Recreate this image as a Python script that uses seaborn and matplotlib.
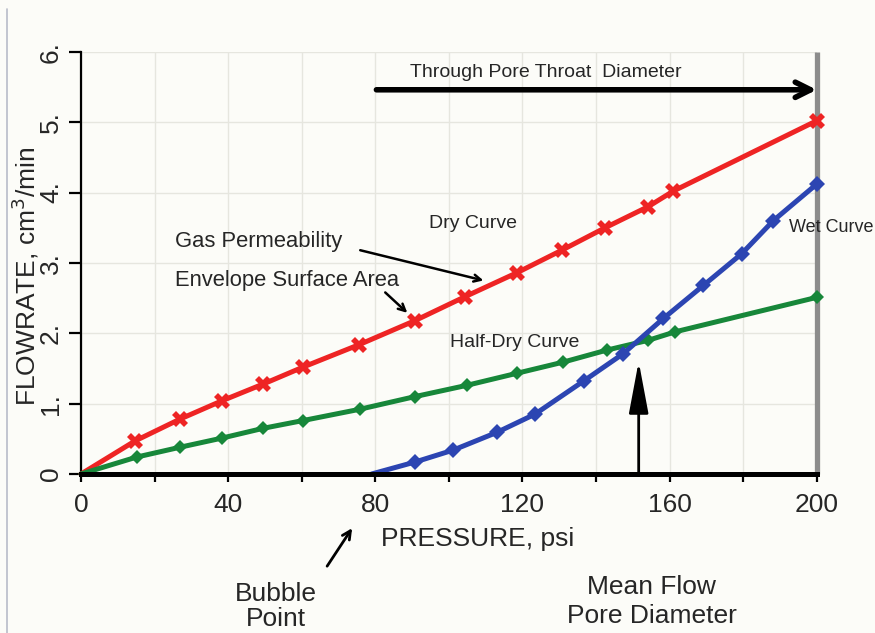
import matplotlib
matplotlib.use("Agg")
import matplotlib.pyplot as plt
from matplotlib.lines import Line2D
import seaborn as sns
import pandas as pd

# ---- data ----
dry_x = [0, 14.7, 26.9, 38.3, 49.6, 60.4, 75.7, 90.8, 104.4, 118.5, 130.7, 142.5, 154.2, 161.0, 200]
dry_y = [0, 0.47, 0.78, 1.04, 1.28, 1.52, 1.84, 2.18, 2.52, 2.86, 3.18, 3.50, 3.80, 4.02, 5.02]

half_x = [0, 15.1, 26.9, 38.3, 49.6, 60.4, 75.8, 90.8, 104.9, 118.4, 131.1, 142.9, 154.2, 161.5, 200]
half_y = [0, 0.24, 0.38, 0.51, 0.65, 0.76, 0.92, 1.10, 1.26, 1.43, 1.59, 1.76, 1.90, 2.02, 2.51]

wet_x = [79.0, 90.8, 101.2, 113.0, 123.4, 136.6, 147.4, 158.3, 169.2, 179.6, 188.2, 200]
wet_y = [0, 0.17, 0.34, 0.59, 0.85, 1.32, 1.71, 2.21, 2.68, 3.13, 3.60, 4.12]

x_ticks = [0, 20, 40, 60, 80, 100, 120, 140, 160, 180, 200]
x_tick_labels = ["0", "", "40", "", "80", "", "120", "", "160", "", "200"]
y_ticks = [0, 1, 2, 3, 4, 5, 6]
y_tick_labels = ["0", "1.", "2.", "3.", "4.", "5.", "6."]

sns.set_style("white")
plt.rcParams["font.family"] = ["Liberation Sans", "DejaVu Sans"]

BG = "#fcfcf8"
fig = plt.figure(figsize=(8.75, 6.33), dpi=100, facecolor=BG)
ax = fig.add_axes([0.0926, 0.2512, 0.8408, 0.6670])
ax.set_facecolor(BG)

red = "#ee2424"
green = "#17873a"
blue = "#2c45b2"

df_dry = pd.DataFrame({"p": dry_x, "f": dry_y})
df_half = pd.DataFrame({"p": half_x, "f": half_y})
df_wet = pd.DataFrame({"p": wet_x, "f": wet_y})

sns.lineplot(data=df_dry, x="p", y="f", ax=ax, color=red, lw=3.6, marker="X",
             markersize=12, markeredgewidth=0, markevery=list(range(1, len(dry_x))),
             clip_on=False, zorder=4)
sns.lineplot(data=df_half, x="p", y="f", ax=ax, color=green, lw=3.6, marker="D",
             markersize=7.5, markeredgewidth=0, markevery=list(range(1, len(half_x))),
             clip_on=False, zorder=4)
sns.lineplot(data=df_wet, x="p", y="f", ax=ax, color=blue, lw=3.6, marker="D",
             markersize=8, markeredgewidth=0, markevery=list(range(1, len(wet_x))),
             clip_on=False, zorder=4)

ax.set_xlim(0, 200)
ax.set_ylim(0, 6)
ax.set_xticks(x_ticks)
ax.set_xticklabels(x_tick_labels, fontsize=19)
ax.set_yticks(y_ticks)
ax.set_yticklabels(y_tick_labels, fontsize=19, rotation=90, va="center")
ax.tick_params(axis="x", direction="out", length=6, width=1.6, color="black", pad=8, bottom=True)
ax.tick_params(axis="y", direction="out", length=9, width=1.6, color="black", pad=4, left=True)
ax.grid(True, color="#e6e6df", lw=1.0, zorder=0)
ax.set_axisbelow(True)
ax.set_xlabel("")
ax.set_ylabel("")

for s in ["top", "right"]:
    ax.spines[s].set_visible(False)
ax.spines["bottom"].set_linewidth(3.6)
ax.spines["bottom"].set_color("black")
ax.spines["bottom"].set_zorder(5)
ax.spines["left"].set_linewidth(1.6)
ax.spines["left"].set_color("black")

# gray right boundary
ax.plot([200, 200], [0, 6], color="#8c8c8c", lw=3.8, clip_on=False, zorder=3, solid_capstyle="butt")

# axis labels
ax.text(107.8, -0.93, "PRESSURE, psi", fontsize=19, ha="center", va="center", clip_on=False)
fig.text(0.029, 0.468 * 0.6670 + 0.2512, "FLOWRATE, cm$^3$/min", fontsize=19, rotation=90,
         ha="center", va="center")

# top arrow
ax.annotate("", xy=(200, 5.46), xytext=(80.3, 5.46),
            arrowprops=dict(arrowstyle="->,head_length=1.1,head_width=0.55", lw=4, color="black",
                            shrinkA=0, shrinkB=0), annotation_clip=False)
ax.text(89.5, 5.71, "Through Pore Throat  Diameter", fontsize=14, ha="left", va="center")

# mean flow arrow
ax.annotate("", xy=(151.6, 1.60), xytext=(151.6, 0),
            arrowprops=dict(arrowstyle="-|>,head_length=3.2,head_width=0.6", lw=2, color="black",
                            shrinkA=0, shrinkB=0), zorder=6)

# annotations
ax.text(106.5, 3.56, "Dry Curve", fontsize=14, ha="center", va="center")
ax.text(117.8, 1.87, "Half-Dry Curve", fontsize=14, ha="center", va="center")
ax.text(192.4, 3.50, "Wet Curve", fontsize=13, ha="left", va="center", clip_on=False, zorder=6)
ax.text(25.6, 3.30, "Gas Permeability", fontsize=15.8, ha="left", va="center")
ax.text(25.6, 2.75, "Envelope Surface Area", fontsize=15.8, ha="left", va="center")
ax.annotate("", xy=(109.4, 2.75), xytext=(75.9, 3.18),
            arrowprops=dict(arrowstyle="->,head_length=0.5,head_width=0.25", lw=1.8, color="black",
                            shrinkA=0, shrinkB=0))
ax.annotate("", xy=(88.7, 2.29), xytext=(82.7, 2.58),
            arrowprops=dict(arrowstyle="->,head_length=0.5,head_width=0.25", lw=1.8, color="black",
                            shrinkA=0, shrinkB=0))

ax.text(53.0, -1.88, "Bubble\nPoint", fontsize=19, ha="center", va="center",
        linespacing=1.05, clip_on=False)
ax.annotate("", xy=(73.7, -0.77), xytext=(66.9, -1.31),
            arrowprops=dict(arrowstyle="->,head_length=0.6,head_width=0.3", lw=2, color="black",
                            shrinkA=0, shrinkB=0), annotation_clip=False)
ax.text(155.1, -1.81, "Mean Flow\nPore Diameter", fontsize=19, ha="center", va="center",
        linespacing=1.25, clip_on=False)

# thin frame line at left edge of image
fig.add_artist(Line2D([0.008, 0.008], [0, 0.985], transform=fig.transFigure, color="#b8bcc8", lw=1.2))

fig.savefig("out.png", dpi=100, facecolor=BG)
